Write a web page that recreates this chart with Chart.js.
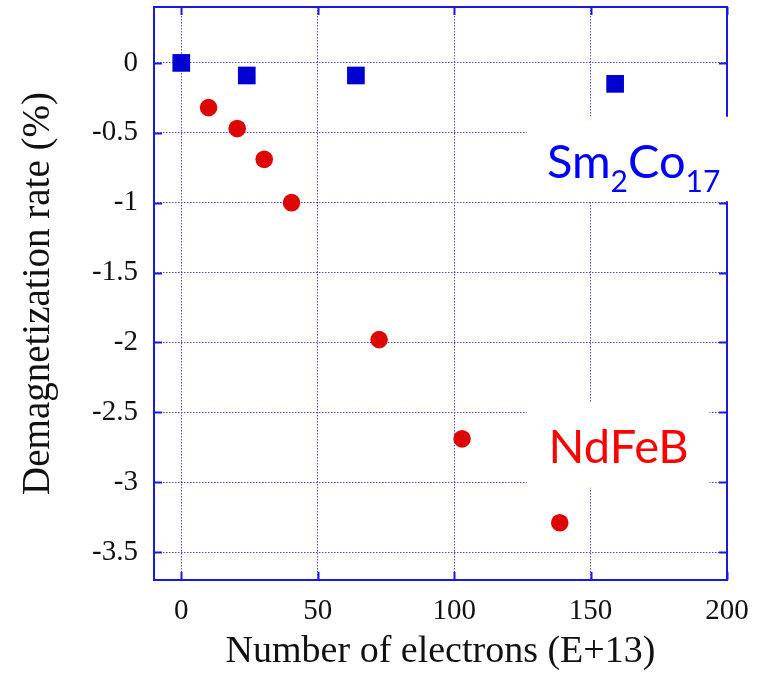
<!DOCTYPE html>
<html>
<head>
<meta charset="utf-8">
<script src="https://cdn.jsdelivr.net/npm/chart.js@4.4.1/dist/chart.umd.min.js"></script>
<style>
  html, body { margin: 0; padding: 0; background: #fff; }
  #wrap { width: 761px; height: 677px; }
</style>
</head>
<body>
<div id="wrap"><canvas id="c"></canvas></div>
<script>
// Demagnetization rate vs. electron fluence, Sm2Co17 and NdFeB magnets

const SERIF = '"Liberation Serif", "Times New Roman", serif';
const SANS  = 'Lato, "Open Sans", sans-serif';

const FRAME_COLOR = 'rgb(25, 25, 225)';
const GRID_COLOR  = 'rgb(70, 70, 240)';
const BLUE_MARK   = 'rgb(0, 0, 208)';
const RED_MARK    = 'rgb(222, 5, 5)';

const X_TICKS = [0, 50, 100, 150, 200];
const Y_TICKS = [0, -0.5, -1, -1.5, -2, -2.5, -3, -3.5];

const SMCO_X = [0, 24, 64, 159];
const SMCO_Y = [0, -0.09, -0.09, -0.15];

const NDFEB_X = [10, 20.5, 30.4, 40.4, 72.5, 102.9, 138.7];
const NDFEB_Y = [-0.32, -0.47, -0.69, -1.0, -1.98, -2.69, -3.29];

// in-plot material labels: text pieces, [piece, subscript?]
const SMCO_LABEL  = [['Sm', false], ['2', true], ['Co', false], ['17', true]];
const NDFEB_LABEL = [['NdFeB', false]];

// label anchors and white backing boxes, in data units
const LABEL_SPECS = [
  { parts: SMCO_LABEL,  color: 'rgb(0, 0, 255)', at: [134, -0.82], box: [126.6, -0.385, 205, -0.99] },
  { parts: NDFEB_LABEL, color: 'rgb(255, 0, 0)', at: [134.6, -2.86], box: [126.6, -2.43, 193.6, -3.04] },
];

const toPts = (xs, ys) => xs.map((x, i) => ({ x, y: ys[i] }));

// solid frame on all four sides with inward tick marks
const framePlugin = {
  id: 'frame',
  beforeDatasetsDraw(chart) {
    const { ctx, chartArea: a, scales: { x, y } } = chart;
    const TL = 8;
    ctx.save();
    ctx.strokeStyle = FRAME_COLOR;
    ctx.lineWidth = 2;
    ctx.strokeRect(a.left, a.top, a.right - a.left, a.bottom - a.top);
    ctx.beginPath();
    for (const v of X_TICKS) {
      const px = Math.round(x.getPixelForValue(v)) + 0.5;
      ctx.moveTo(px, a.bottom); ctx.lineTo(px, a.bottom - TL);
      ctx.moveTo(px, a.top);    ctx.lineTo(px, a.top + TL);
    }
    for (const v of Y_TICKS) {
      const py = Math.round(y.getPixelForValue(v)) + 0.5;
      ctx.moveTo(a.left, py);  ctx.lineTo(a.left + TL, py);
      ctx.moveTo(a.right, py); ctx.lineTo(a.right - TL, py);
    }
    ctx.stroke();
    ctx.restore();
  },
};

const labelPlugin = {
  id: 'materialLabels',
  afterDraw(chart) {
    const { ctx, scales: { x, y } } = chart;
    const MAIN = 47, SUB = 30;
    ctx.save();
    for (const spec of LABEL_SPECS) {
      const [bx0, by0, bx1, by1] = spec.box;
      const l = x.getPixelForValue(bx0), r = x.getPixelForValue(bx1);
      const t = y.getPixelForValue(by0), b = y.getPixelForValue(by1);
      ctx.fillStyle = '#fff';
      ctx.fillRect(l, t, r - l, b - t);

      let px = x.getPixelForValue(spec.at[0]);
      const base = y.getPixelForValue(spec.at[1]);
      ctx.fillStyle = spec.color;
      ctx.textBaseline = 'alphabetic';
      ctx.textAlign = 'left';
      for (const [txt, sub] of spec.parts) {
        ctx.font = `${sub ? SUB : MAIN}px ${SANS}`;
        ctx.fillText(txt, px, sub ? base + 14 : base);
        px += ctx.measureText(txt).width;
      }
    }
    ctx.restore();
  },
};

function axis(ticksList, title, extra) {
  return {
    type: 'linear',
    afterBuildTicks: s => { s.ticks = ticksList.map(v => ({ value: v })); },
    ticks: {
      color: '#111',
      font: { family: SERIF, size: 29 },
      callback: v => String(v),
    },
    grid: { color: GRID_COLOR, lineWidth: 1, drawTicks: false },
    border: { display: false, dash: [1.5, 1.5] },
    title: {
      display: true, text: title, color: '#111',
      font: { family: SERIF, size: 38 },
    },
    ...extra,
  };
}

const xAxis = axis(X_TICKS, 'Number of electrons (E+13)', {
  min: -10, max: 200,
  afterFit: s => { s.height = 97; s.paddingLeft = s.paddingRight = 0; },
});
xAxis.ticks.padding = 14;
xAxis.title.padding = { top: 0, bottom: 2 };

const yAxis = axis(Y_TICKS, 'Demagnetization rate (%)', {
  min: -3.7, max: 0.4,
  afterFit: s => { s.width = 154; s.paddingTop = s.paddingBottom = 0; },
});
yAxis.ticks.padding = 16;
yAxis.title.font = { family: SERIF, size: 39 };
yAxis.title.padding = { top: 15, bottom: 0 };

new Chart(document.getElementById('c'), {
  type: 'scatter',
  data: {
    datasets: [
      {
        label: 'Sm2Co17', data: toPts(SMCO_X, SMCO_Y),
        pointStyle: 'rect', pointRadius: 12.5, borderWidth: 0,
        backgroundColor: BLUE_MARK, borderColor: BLUE_MARK,
      },
      {
        label: 'NdFeB', data: toPts(NDFEB_X, NDFEB_Y),
        pointStyle: 'circle', pointRadius: 8.8, borderWidth: 0,
        backgroundColor: RED_MARK, borderColor: RED_MARK,
      },
    ],
  },
  options: {
    animation: false,
    responsive: true,
    maintainAspectRatio: false,
    layout: { autoPadding: false, padding: { top: 7, right: 34, left: 0, bottom: 0 } },
    plugins: { legend: { display: false }, tooltip: { enabled: false } },
    scales: { x: xAxis, y: yAxis },
  },
  plugins: [framePlugin, labelPlugin],
});
</script>
</body>
</html>
